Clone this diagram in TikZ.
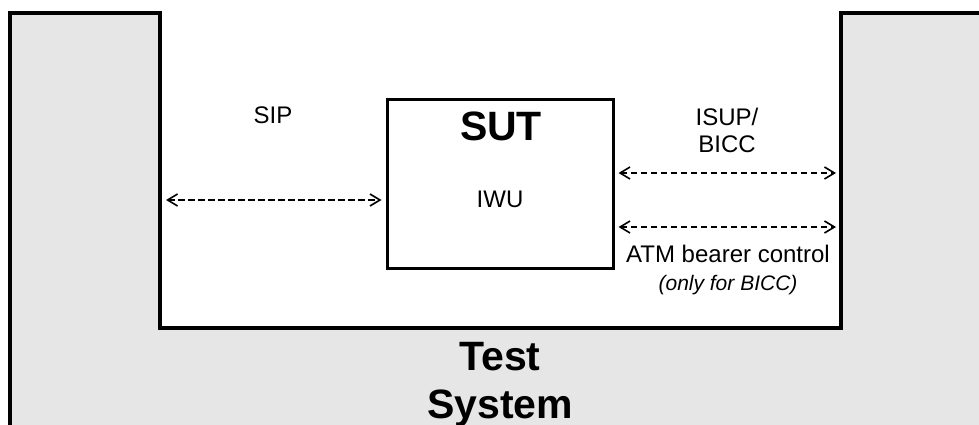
\documentclass[tikz,border=0pt]{standalone}
\usepackage{fontspec}
\setmainfont{Liberation Sans}
\usetikzlibrary{arrows.meta}
\definecolor{tsgrey}{HTML}{E6E6E6}
\tikzset{
  lbl/.style={inner sep=0pt, anchor=base, font=\fontsize{24}{26}\selectfont},
  biglbl/.style={inner sep=0pt, anchor=base, font=\fontsize{41}{48}\selectfont\bfseries, align=center},
  frame/.style={line width=4pt, line join=miter},
  sutbox/.style={draw, line width=3pt, minimum width=226pt, minimum height=168pt, inner sep=0pt},
  sig/.style={line width=1.8pt, dash pattern=on 6.5pt off 3.5pt,
    arrows={Straight Barb[length=10pt,width=12pt,line width=1.6pt]-Straight Barb[length=10pt,width=12pt,line width=1.6pt]}}
}
\begin{document}
\begin{tikzpicture}[x=1pt,y=-1pt]
\useasboundingbox (0,0) rectangle (979,425);
% test system
\fill[tsgrey] (10,13) -- (160,13) -- (160,328) -- (841,328) -- (841,13) -- (985,13) -- (985,430) -- (10,430) -- cycle;
\draw[frame] (10,432) -- (10,13) -- (160,13) -- (160,328) -- (841,328) -- (841,13) -- (985,13);
% SUT
\node[sutbox] (sut) at (500,184) {};
\node[biglbl] (sutlbl) at (501,140) {SUT};
\node[lbl] (iwu) at (500,207) {IWU};
% labels
\node[lbl] (sip) at (273,124) {SIP};
\node[lbl] (isup) at (727,125) {ISUP/};
\node[lbl] (bicc) at (727,152) {BICC};
\node[lbl] (atm) at (728,262) {ATM bearer control};
\node[lbl, font=\fontsize{21}{24}\selectfont\itshape] (only) at (728,290) {(only for BICC)};
\node[biglbl] (test) at (500,370) {Test};
\node[biglbl] (system) at (500,418) {System};
% signalling
\coordinate (l1) at (166,200);
\coordinate (r1) at (836,173);
\coordinate (r2) at (836,227);
\draw[sig] (l1) -- ([xshift=-4pt]sut.west |- l1);
\draw[sig] ([xshift=4pt]sut.east |- r1) -- (r1);
\draw[sig] ([xshift=4pt]sut.east |- r2) -- (r2);
\end{tikzpicture}
\end{document}
